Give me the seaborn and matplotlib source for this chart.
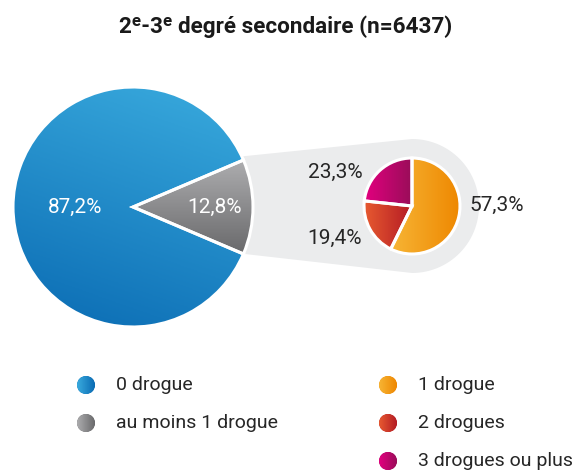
import numpy as np
import matplotlib
matplotlib.use("Agg")
import matplotlib.pyplot as plt
from matplotlib.patches import Circle, PathPatch, Wedge
from matplotlib.path import Path
import seaborn as sns

# --- data -------------------------------------------------------------
title = "2ᵉ-3ᵉ degré secondaire (n=6437)"
main_labels = ["au moins 1 drogue", "0 drogue"]
main_values = [12.8, 87.2]
sub_labels = ["1 drogue", "2 drogues", "3 drogues ou plus"]
sub_values = [57.3, 19.4, 23.3]

# light -> dark gradient stops for each slice
main_grad = [("#adadaf", "#69696b"), ("#3aabde", "#0a6bb3")]
sub_grad = [("#f7b535", "#ee8700"), ("#e75a30", "#b41b24"), ("#e3007f", "#990d59")]

# --- style ------------------------------------------------------------
sns.set_theme(style="white")
plt.rcParams["font.family"] = ["Roboto", "DejaVu Sans"]
TEXT = "#262626"

W, H = 574, 473
fig = plt.figure(figsize=(W / 100, H / 100), dpi=100)
ax = fig.add_axes([0, 0, 1, 1])


def fmt(v):
    return f"{v:.1f}%".replace(".", ",")


def gradient_fill(patch, c0, c1, direction, zorder):
    """Fill a patch with a linear gradient running along `direction`."""
    cmap = sns.blend_palette([c0, c1], as_cmap=True)
    bb = patch.get_path().get_extents(patch.get_patch_transform())
    xs = np.linspace(bb.x0, bb.x1, 200)
    ys = np.linspace(bb.y0, bb.y1, 200)
    X, Y = np.meshgrid(xs, ys)
    dx, dy = direction
    t = (X - bb.x0) * dx + (Y - bb.y0) * dy
    t = (t - t.min()) / (t.max() - t.min())
    im = ax.imshow(t, cmap=cmap, origin="lower", extent=(bb.x0, bb.x1, bb.y0, bb.y1),
                   interpolation="bilinear", zorder=zorder, aspect="auto")
    im.set_clip_path(patch)


# --- main pie ---------------------------------------------------------
big_c = (133, H - 207)
big_r = 120
half = main_values[0] / 100 * 360 / 2
big_wedges, _ = ax.pie(main_values, startangle=-half, counterclock=True,
                       center=big_c, radius=big_r,
                       colors=[g[1] for g in main_grad],
                       wedgeprops=dict(linewidth=0), frame=False)

# --- secondary pie ----------------------------------------------------
small_c = (412, H - 206)
small_r = 48
small_wedges, _ = ax.pie(sub_values, startangle=90, counterclock=False,
                         center=small_c, radius=small_r,
                         colors=[g[1] for g in sub_grad],
                         wedgeprops=dict(linewidth=0), frame=False)

# --- connector band (behind both pies) --------------------------------
band_r = 67
arc = np.linspace(np.pi / 2, -np.pi / 2, 60)
verts = [(236, H - 157)]
verts += [(small_c[0] + band_r * np.cos(a), small_c[1] + band_r * np.sin(a)) for a in arc]
verts += [(236, H - 253), (236, H - 157)]
band = PathPatch(Path(verts, closed=True), facecolor="#ebeced", edgecolor="none", zorder=0)
ax.add_patch(band)

for w in big_wedges + small_wedges:
    w.set_zorder(1)

gradient_fill(big_wedges[0], *main_grad[0], direction=(0.0, -1.0), zorder=2)
gradient_fill(big_wedges[1], *main_grad[1], direction=(-0.35, -1.0), zorder=2)
for w, g in zip(small_wedges, sub_grad):
    gradient_fill(w, *g, direction=(1.0, 0.0), zorder=2)

# white separators on top of the gradients
for w, (cx, cy), r in [(w, big_c, big_r) for w in big_wedges] + [(w, small_c, small_r) for w in small_wedges]:
    ax.add_patch(Wedge((cx, cy), r, w.theta1, w.theta2, fill=False,
                       edgecolor="white", linewidth=2.2, zorder=3))

# --- value labels -----------------------------------------------------
label_fs = 15
for w, v, dist in zip(big_wedges, main_values, [0.68, 0.48]):
    mid = np.deg2rad((w.theta1 + w.theta2) / 2)
    ax.text(big_c[0] + dist * big_r * np.cos(mid), big_c[1] + dist * big_r * np.sin(mid),
            fmt(v), color="white", fontsize=label_fs,
            ha="center", va="center", zorder=4)

sub_label_pos = [(497, 205), (335, 238), (335, 172)]
for v, (x, y) in zip(sub_values, sub_label_pos):
    ax.text(x, H - y, fmt(v), color=TEXT, fontsize=label_fs,
            ha="center", va="center", zorder=4)

# --- title --------------------------------------------------------------
ax.text(286, H - 27, title, fontsize=16.2, fontweight="bold", color="#1a1a1a",
        ha="center", va="center")

# --- legend -------------------------------------------------------------
leg_entries = list(zip(main_labels[::-1], main_grad[::-1])) + list(zip(sub_labels, sub_grad))
leg_pos = [(86, 385), (86, 423), (388, 385), (388, 423), (388, 461)]
for (lab, g), (x, y) in zip(leg_entries, leg_pos):
    dot = Circle((x, H - y), 9, facecolor=g[1], edgecolor="none", zorder=1)
    ax.add_patch(dot)
    gradient_fill(dot, *g, direction=(1.0, 0.0), zorder=2)
    ax.text(x + 30, H - y, lab, fontsize=14, color=TEXT,
            ha="left", va="center")

ax.set_xlim(0, W)
ax.set_ylim(0, H)
ax.set_aspect("equal")
ax.axis("off")

fig.savefig("out.png", dpi=100)
